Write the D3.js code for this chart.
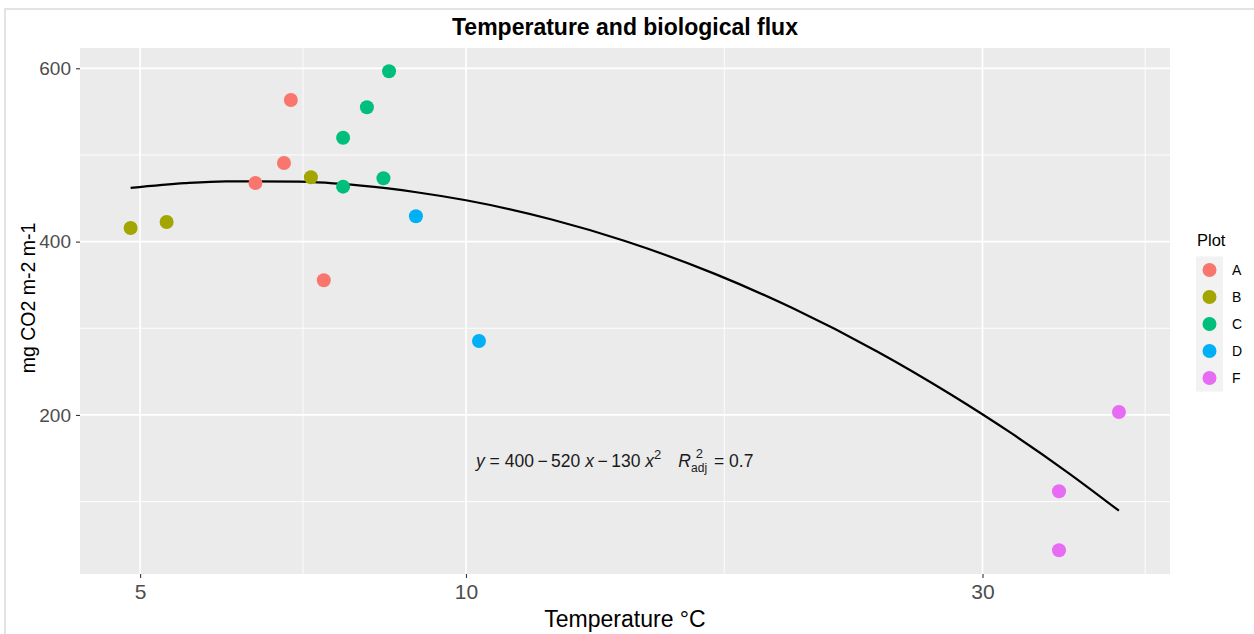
<!DOCTYPE html>
<html>
<head>
<meta charset="utf-8">
<script src="https://cdn.jsdelivr.net/npm/d3@7"></script>
<style>
  html, body { margin: 0; padding: 0; background: #ffffff; }
  svg { display: block; font-family: "Liberation Sans", Arial, sans-serif; }
</style>
</head>
<body>
<svg id="chart" width="1254" height="634"></svg>
<script>
// ---------------- data ----------------
const plots = ["A", "B", "C", "D", "F"];
const plotColors = ["#F8766D", "#A3A500", "#00BF7D", "#00B0F6", "#E76BF3"];

// temperature (°C) and flux (mg CO2 m-2 m-1) per observation
const pointPlot = ["A", "A", "A", "A", "B", "B", "B", "C", "C", "C", "C", "C", "D", "D", "F", "F", "F"];
const pointTemp = [6.39, 6.79, 6.89, 7.39, 4.90, 5.29, 7.19, 7.70, 7.70, 8.10, 8.49, 8.39, 8.99, 10.28, 40.1, 35.3, 35.3];
const pointFlux = [467.7, 490.7, 563.4, 355.4, 415.7, 422.7, 474.2, 519.9, 463.4, 555.0, 596.5, 473.1, 429.2, 285.4, 203.4, 111.9, 43.9];

// fitted curve
const curveTemp = [4.9, 5.5, 6, 7, 8, 9, 10, 12, 14, 17, 20, 24, 28, 32, 36, 40.1];
const curveFlux = [462.0, 467.5, 469.6, 469.2, 464.6, 457.0, 447.7, 425.5, 401.0, 362.5, 323.6, 273.0, 224.2, 177.8, 133.3, 89.5];

// axis breaks
const xMajorTicks = [5, 10, 30];
const xMinorTicks = [7.07, 17.32, 42.4];
const yMajorTicks = [200, 400, 600];
const yMinorTicks = [100, 300, 500];

const titleText = "Temperature and biological flux";
const xTitle = "Temperature °C";
const yTitle = "mg CO2 m-2 m-1";
const legendTitle = "Plot";

// ---------------- layout ----------------
const svg = d3.select("#chart");
const W = 1254, H = 634;
const panel = { left: 80, right: 1170, top: 48, bottom: 574 };

// outer frame
svg.append("rect").attr("x", 5).attr("y", 9).attr("width", W + 20).attr("height", H + 20)
  .attr("fill", "#ffffff").attr("stroke", "#e3e3e3").attr("stroke-width", 2);

const x = d3.scaleLog().domain([4.40, 44.7]).range([panel.left, panel.right]);
const y = d3.scaleLinear().domain([16.5, 623.4]).range([panel.bottom, panel.top]);
const color = d3.scaleOrdinal().domain(plots).range(plotColors);

// panel background
svg.append("rect")
  .attr("x", panel.left).attr("y", panel.top)
  .attr("width", panel.right - panel.left).attr("height", panel.bottom - panel.top)
  .attr("fill", "#EBEBEB");

const grid = svg.append("g");
grid.selectAll(".ymin").data(yMinorTicks).join("line")
  .attr("x1", panel.left).attr("x2", panel.right)
  .attr("y1", d => y(d)).attr("y2", d => y(d))
  .attr("stroke", "#ffffff").attr("stroke-width", 0.9);
grid.selectAll(".xmin").data(xMinorTicks).join("line")
  .attr("y1", panel.top).attr("y2", panel.bottom)
  .attr("x1", d => x(d)).attr("x2", d => x(d))
  .attr("stroke", "#ffffff").attr("stroke-width", 0.9);
grid.selectAll(".ymaj").data(yMajorTicks).join("line")
  .attr("x1", panel.left).attr("x2", panel.right)
  .attr("y1", d => y(d)).attr("y2", d => y(d))
  .attr("stroke", "#ffffff").attr("stroke-width", 1.7);
grid.selectAll(".xmaj").data(xMajorTicks).join("line")
  .attr("y1", panel.top).attr("y2", panel.bottom)
  .attr("x1", d => x(d)).attr("x2", d => x(d))
  .attr("stroke", "#ffffff").attr("stroke-width", 1.7);

// axes
const xAxis = svg.append("g").attr("transform", `translate(0,${panel.bottom})`)
  .call(d3.axisBottom(x).tickValues(xMajorTicks).tickFormat(d3.format("d")).tickSizeOuter(0).tickSize(4).tickPadding(6));
xAxis.select(".domain").remove();
xAxis.selectAll(".tick line").attr("stroke", "#333333").attr("stroke-width", 1.1);
xAxis.selectAll(".tick text").attr("fill", "#4D4D4D").attr("font-size", 21)
  .attr("font-family", "Liberation Sans, Arial, sans-serif");

const yAxis = svg.append("g").attr("transform", `translate(${panel.left},0)`)
  .call(d3.axisLeft(y).tickValues(yMajorTicks).tickFormat(d3.format("d")).tickSizeOuter(0).tickSize(4).tickPadding(5));
yAxis.select(".domain").remove();
yAxis.selectAll(".tick line").attr("stroke", "#333333").attr("stroke-width", 1.1);
yAxis.selectAll(".tick text").attr("fill", "#4D4D4D").attr("font-size", 19)
  .attr("font-family", "Liberation Sans, Arial, sans-serif");

// curve
const line = d3.line().x(d => x(d[0])).y(d => y(d[1])).curve(d3.curveMonotoneX);
svg.append("path")
  .datum(curveTemp.map((t, i) => [t, curveFlux[i]]))
  .attr("d", line).attr("fill", "none").attr("stroke", "#000000").attr("stroke-width", 2.2);

// points
const pts = pointTemp.map((t, i) => ({ t, f: pointFlux[i], p: pointPlot[i] }));
svg.append("g").selectAll("circle").data(pts).join("circle")
  .attr("cx", d => x(d.t)).attr("cy", d => y(d.f)).attr("r", 7)
  .attr("fill", d => color(d.p));

// equation annotation
const eq = svg.append("text").attr("x", 476).attr("y", 467)
  .attr("font-size", 17.5).attr("fill", "#1a1a1a");
eq.append("tspan").attr("font-style", "italic").text("y");
eq.append("tspan").text(" = 400\u2009\u2212\u2009520 ");
eq.append("tspan").attr("font-style", "italic").text("x");
eq.append("tspan").text("\u2009\u2212\u2009130 ");
eq.append("tspan").attr("font-style", "italic").text("x");
eq.append("tspan").attr("font-size", 13).attr("dy", -8).text("2");
eq.append("tspan").attr("dy", 8).attr("dx", 17).attr("font-style", "italic").text("R");
eq.append("tspan").attr("font-size", 13).attr("dy", -9).attr("dx", 5).text("2");
eq.append("tspan").attr("font-size", 12).attr("dy", 14).attr("dx", -12).text("adj");
eq.append("tspan").attr("dy", -5).attr("dx", 2).text(" = 0.7");

// title
svg.append("text").attr("x", 625).attr("y", 35).attr("text-anchor", "middle")
  .attr("font-size", 23).attr("font-weight", "bold").attr("fill", "#000").text(titleText);

// axis titles
svg.append("text").attr("x", 625).attr("y", 627).attr("text-anchor", "middle")
  .attr("font-size", 23).attr("fill", "#000").text(xTitle);
svg.append("text").attr("transform", "translate(35,298) rotate(-90)").attr("text-anchor", "middle")
  .attr("font-size", 19.5).attr("fill", "#000").text(yTitle);

// legend
const lg = svg.append("g");
lg.append("text").attr("x", 1197).attr("y", 246).attr("font-size", 16.5).attr("fill", "#000").text(legendTitle);
const keyH = 27, keyTop = 256.5;
lg.append("rect").attr("x", 1196).attr("y", keyTop).attr("width", 27).attr("height", keyH * plots.length)
  .attr("fill", "#F2F2F2");
const items = lg.selectAll(".item").data(plots).join("g")
  .attr("transform", (d, i) => `translate(0,${keyTop + keyH * i + keyH / 2})`);
items.append("circle").attr("cx", 1209.5).attr("cy", 0).attr("r", 7).attr("fill", d => color(d));
items.append("text").attr("x", 1232).attr("y", 5).attr("font-size", 14).attr("fill", "#000").text(d => d);
</script>
</body>
</html>
